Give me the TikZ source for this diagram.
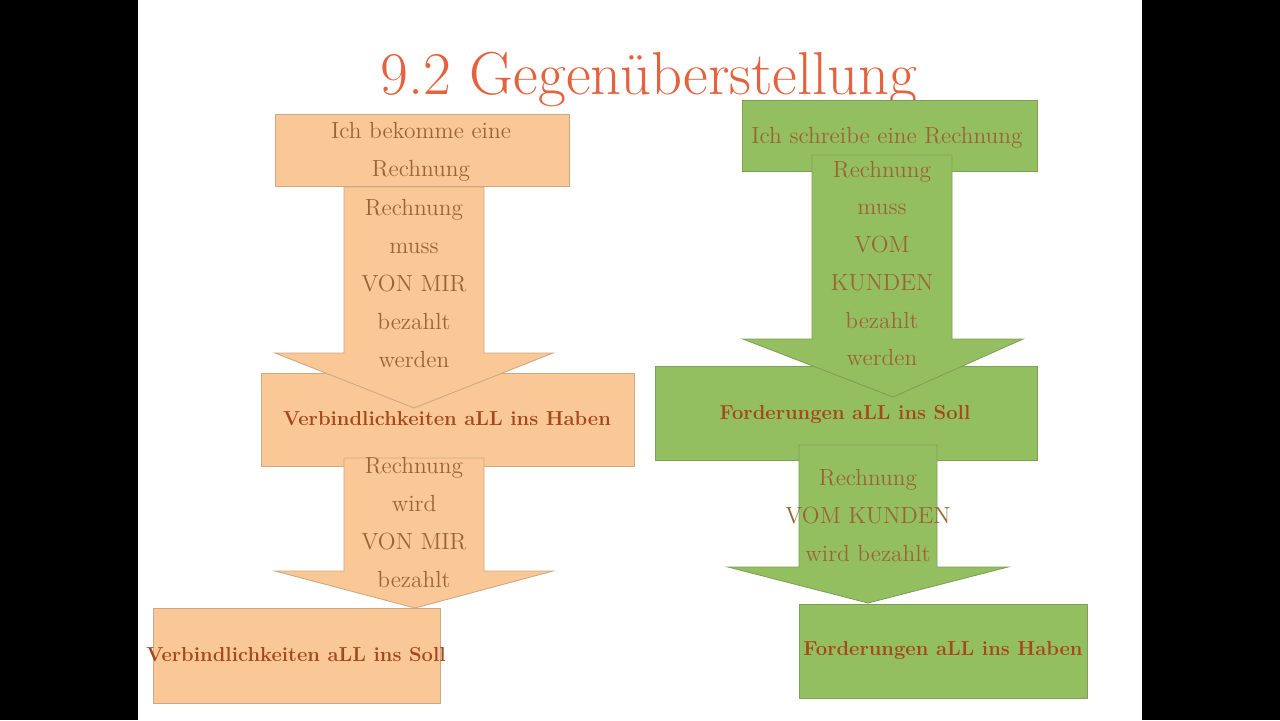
\documentclass[tikz,border=0pt]{standalone}
\usepackage{fontspec}
\usetikzlibrary{positioning}

\definecolor{peach}{RGB}{250,200,150}
\definecolor{peachline}{RGB}{205,168,132}
\definecolor{leaf}{RGB}{148,191,97}
\definecolor{leafline}{RGB}{126,160,86}
\definecolor{ink}{RGB}{155,100,52}
\definecolor{boldink}{RGB}{165,72,28}
\definecolor{headred}{RGB}{228,98,62}

\begin{document}
\begin{tikzpicture}[x=0.02cm, y=-0.02cm,
  txt/.style={inner sep=0pt, align=center, text=ink, font=\fontsize{13.3}{21.5}\selectfont},
  boldtxt/.style={inner sep=0pt, text=boldink, font=\fontsize{11.5}{14}\selectfont\bfseries},
  peachbox/.style={fill=peach, draw=peachline, line width=0.5pt},
  leafbox/.style={fill=leaf, draw=leafline, line width=0.5pt}]

\useasboundingbox (0,0) rectangle (1280,720);
\fill[white] (138,0) rectangle (1142,720);
\fill[black] (0,0) rectangle (138,720);
\fill[black] (1142,0) rectangle (1280,720);

% title
\node[inner sep=0pt, text=headred, font=\fontsize{34.5}{40}\selectfont] (title) at (649,79) {9.2 Gegenüberstellung};

% left column
\draw[peachbox] (275,114) rectangle (569,186);
\node[txt] (ich) at (421,152) {Ich bekomme eine\\Rechnung};

\draw[peachbox] (261,373) rectangle (634,466);
\node[boldtxt] (vbhaben) at (447,419) {Verbindlichkeiten aLL ins Haben};

\draw[peachbox] (344,187) -- (484,187) -- (484,353) -- (553,353) -- (414,408) -- (275,353) -- (344,353) -- cycle;
\node[txt] (muss) at (414,283.5) {Rechnung\\muss\\VON MIR\\bezahlt\\werden};

\draw[peachbox] (344,458) -- (484,458) -- (484,571) -- (553,571) -- (415,608) -- (275,571) -- (344,571) -- cycle;
\node[txt] (wird) at (414,522.5) {Rechnung\\wird\\VON MIR\\bezahlt};

\draw[peachbox] (153,608) rectangle (440,703);
\node[boldtxt] (vbsoll) at (296,655) {Verbindlichkeiten aLL ins Soll};

% right column
\draw[leafbox] (742,100) rectangle (1037,171);
\node[txt] (schreibe) at (887,138) {Ich schreibe eine Rechnung};

\draw[leafbox] (655,366) rectangle (1037,460);
\node[boldtxt] (fdsoll) at (845,414) {Forderungen aLL ins Soll};

\draw[leafbox] (812,155) -- (952,155) -- (952,339) -- (1023,339) -- (893,397) -- (743,339) -- (812,339) -- cycle;
\node[txt] (kmuss) at (882,263.5) {Rechnung\\muss\\VOM\\KUNDEN\\bezahlt\\werden};

\draw[leafbox] (799,445) -- (937,445) -- (937,567) -- (1008,567) -- (868,603) -- (728,567) -- (799,567) -- cycle;
\node[txt] (kwird) at (868,515.5) {Rechnung\\VOM KUNDEN\\wird bezahlt};

\draw[leafbox] (799,604) rectangle (1087,698);
\node[boldtxt] (fdhaben) at (943,651) {Forderungen aLL ins Haben};

\end{tikzpicture}
\end{document}
